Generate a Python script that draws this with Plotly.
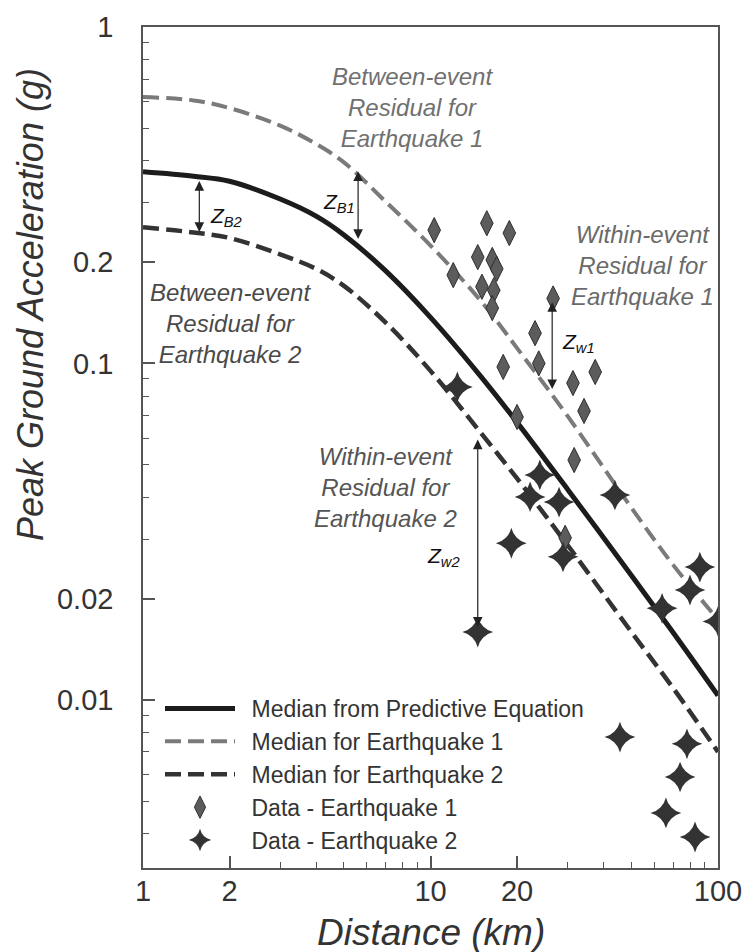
import numpy as np
import plotly.graph_objects as go

# ---- data ----
distance_km = [1, 1.5, 2, 3, 4, 5, 7, 10, 15, 20, 30, 50, 70, 100]
median_pred = [0.371, 0.36, 0.348, 0.308, 0.274, 0.241, 0.188, 0.137, 0.0912, 0.0668, 0.0422, 0.0234, 0.0158, 0.0103]
median_eq1 = [0.619, 0.605, 0.574, 0.509, 0.449, 0.396, 0.302, 0.224, 0.153, 0.111, 0.0697, 0.0372, 0.0251, 0.0173]
median_eq2 = [0.254, 0.245, 0.236, 0.211, 0.191, 0.170, 0.132, 0.095, 0.062, 0.0455, 0.0288, 0.0159, 0.0108, 0.0070]

eq1_dist = [10.3, 15.7, 18.8, 14.6, 16.4, 12.0, 17.0, 15.1, 16.6, 16.4, 26.7, 23.1, 23.8, 17.9,
            31.3, 37.4, 34.2, 20.0, 31.6, 29.4]
eq1_pga = [0.249, 0.261, 0.244, 0.207, 0.203, 0.183, 0.191, 0.169, 0.165, 0.146, 0.156, 0.123, 0.100, 0.0976,
           0.0874, 0.0943, 0.0722, 0.0693, 0.0516, 0.0303]

eq2_dist = [12.4, 24.0, 22.2, 28.0, 19.1, 28.9, 43.8, 86.5, 79.9, 63.9, 100, 14.6,
            45.6, 78.0, 73.8, 65.9, 83.2]
eq2_pga = [0.0851, 0.0466, 0.0401, 0.0387, 0.0292, 0.0266, 0.0406, 0.0248, 0.0212, 0.0187, 0.0171, 0.0159,
           0.00775, 0.0074, 0.0059, 0.00461, 0.00391]

# residual arrows: label, distance, from pga, to pga
res_labels = ["Z<sub>B2</sub>", "Z<sub>B1</sub>", "Z<sub>w1</sub>", "Z<sub>w2</sub>"]
res_dist = [1.57, 5.6, 26.5, 14.6]
res_from = [0.352, 0.232, 0.083, 0.060]
res_to = [0.246, 0.372, 0.152, 0.0165]

x_tickvals = [1, 2, 10, 20, 100]
x_ticktext = ["1", "2", "10", "20", "100"]
y_tickvals = [0.01, 0.02, 0.1, 0.2, 1]
y_ticktext = ["0.01", "0.02", "0.1", "0.2", "1"]

FONT = "Arial, Liberation Sans, sans-serif"
AX = "#555555"
SP = "\u2002"  # small gap between legend symbol and text

x_minor = [m * d for d in (1, 10) for m in range(3, 10)]
y_minor = [m * d for d in (0.001, 0.01, 0.1) for m in range(3, 10) if m * d > 0.0035]

fig = go.Figure()
fig.add_trace(go.Scatter(x=distance_km, y=median_pred, mode="lines", name=SP + "Median from Predictive Equation",
                         line=dict(color="#1c1c1c", width=5, shape="spline", smoothing=1.0)))
fig.add_trace(go.Scatter(x=distance_km, y=median_eq1, mode="lines", name=SP + "Median for Earthquake 1",
                         line=dict(color="#7a7a7a", width=4, dash="16px,7px", shape="spline", smoothing=1.0)))
fig.add_trace(go.Scatter(x=distance_km, y=median_eq2, mode="lines", name=SP + "Median for Earthquake 2",
                         line=dict(color="#333333", width=4.5, dash="16px,7px", shape="spline", smoothing=1.0)))
fig.add_trace(go.Scatter(x=eq1_dist, y=eq1_pga, mode="markers", name=SP + "Data - Earthquake 1",
                         marker=dict(symbol="diamond-tall", size=18, color="#5c5c5c",
                                     line=dict(color="#2e2e2e", width=1))))
fig.add_trace(go.Scatter(x=eq2_dist, y=eq2_pga, mode="markers", name=SP + "Data - Earthquake 2",
                         marker=dict(symbol="star-diamond", size=22, color="#333333",
                                     line=dict(width=0))))

annotations = []
for lab, d, y0, y1 in zip(res_labels, res_dist, res_from, res_to):
    annotations.append(dict(x=np.log10(d), y=np.log10(y1), ax=np.log10(d), ay=np.log10(y0),
                            xref="x", yref="y", axref="x", ayref="y", text="", showarrow=True,
                            arrowhead=2, startarrowhead=2, arrowside="end+start", arrowsize=1.6,
                            startarrowsize=1.6, arrowwidth=1.2, arrowcolor="#222222"))

lab_pos = [(1.57, 0.272, "left", 9), (5.6, 0.30, "right", -1), (26.5, 0.115, "left", 8), (14.6, 0.0266, "right", -16)]
for lab, (d, yv, anc, sh) in zip(res_labels, lab_pos):
    annotations.append(dict(x=np.log10(d), y=np.log10(yv), xref="x", yref="y", text="<i>" + lab + "</i>",
                            showarrow=False, xanchor=anc, xshift=sh,
                            font=dict(family=FONT, size=21, color="#111111")))

def ptext(px, py, txt, color):
    annotations.append(dict(x=(px - 143) / 575, y=(868 - py) / 841, xref="paper", yref="paper",
                            text="<i>" + txt + "</i>", showarrow=False, xanchor="center", yanchor="middle",
                            align="center", font=dict(family=FONT, size=24, color=color)))

ptext(412, 108, "Between-event<br>Residual for<br>Earthquake 1", "#707070")
ptext(230, 323, "Between-event<br>Residual for<br>Earthquake 2", "#4a4a4a")
ptext(642, 265, "Within-event<br>Residual for<br>Earthquake 1", "#6a6a6a")
ptext(385, 487, "Within-event<br>Residual for<br>Earthquake 2", "#555555")

annotations.append(dict(x=(30 - 143) / 575, y=(868 - 305) / 841, xref="paper", yref="paper",
                        text="<i>Peak Ground Acceleration (g)</i>", textangle=-90, showarrow=False,
                        xanchor="center", yanchor="middle", font=dict(family=FONT, size=36, color="#333333")))
annotations.append(dict(x=0.5, y=(868 - 932) / 841, xref="paper", yref="paper",
                        text="<i>Distance (km)</i>", showarrow=False,
                        xanchor="center", yanchor="middle", font=dict(family=FONT, size=37, color="#333333")))

fig.update_layout(
    width=745, height=952,
    margin=dict(l=143, r=27, t=27, b=84, autoexpand=False),
    plot_bgcolor="white", paper_bgcolor="white",
    font=dict(family=FONT, color="#333333"),
    showlegend=True,
    legend=dict(x=(160 - 143) / 575, y=(868 - 687) / 841, xanchor="left", yanchor="top",
                bgcolor="rgba(0,0,0,0)", font=dict(family=FONT, size=23, color="#333333"),
                itemwidth=70, tracegroupgap=0),
    annotations=annotations,
)
fig.update_xaxes(type="log", range=[0, 2], showgrid=False, zeroline=False, automargin=False,
                 showline=True, linecolor=AX, linewidth=1.5, mirror=True,
                 ticks="inside", ticklen=12, tickwidth=1.5, tickcolor=AX,
                 tickvals=x_tickvals, ticktext=x_ticktext, ticklabelstandoff=-4,
                 tickfont=dict(family=FONT, size=29, color="#333333"),
                 minor=dict(tickvals=x_minor, ticks="inside", ticklen=6, tickwidth=1.2, tickcolor=AX))
fig.update_yaxes(type="log", range=[-2.5, 0], showgrid=False, zeroline=False, automargin=False,
                 showline=True, linecolor=AX, linewidth=1.5, mirror=True,
                 ticks="inside", ticklen=12, tickwidth=1.5, tickcolor=AX,
                 tickvals=y_tickvals, ticktext=y_ticktext, ticklabelstandoff=22,
                 tickfont=dict(family=FONT, size=29, color="#333333"),
                 minor=dict(tickvals=y_minor, ticks="inside", ticklen=6, tickwidth=1.2, tickcolor=AX))

fig.write_html("out.html", config={"displayModeBar": False},
               post_script="document.body.style.margin='0';document.body.style.overflow='hidden';")
